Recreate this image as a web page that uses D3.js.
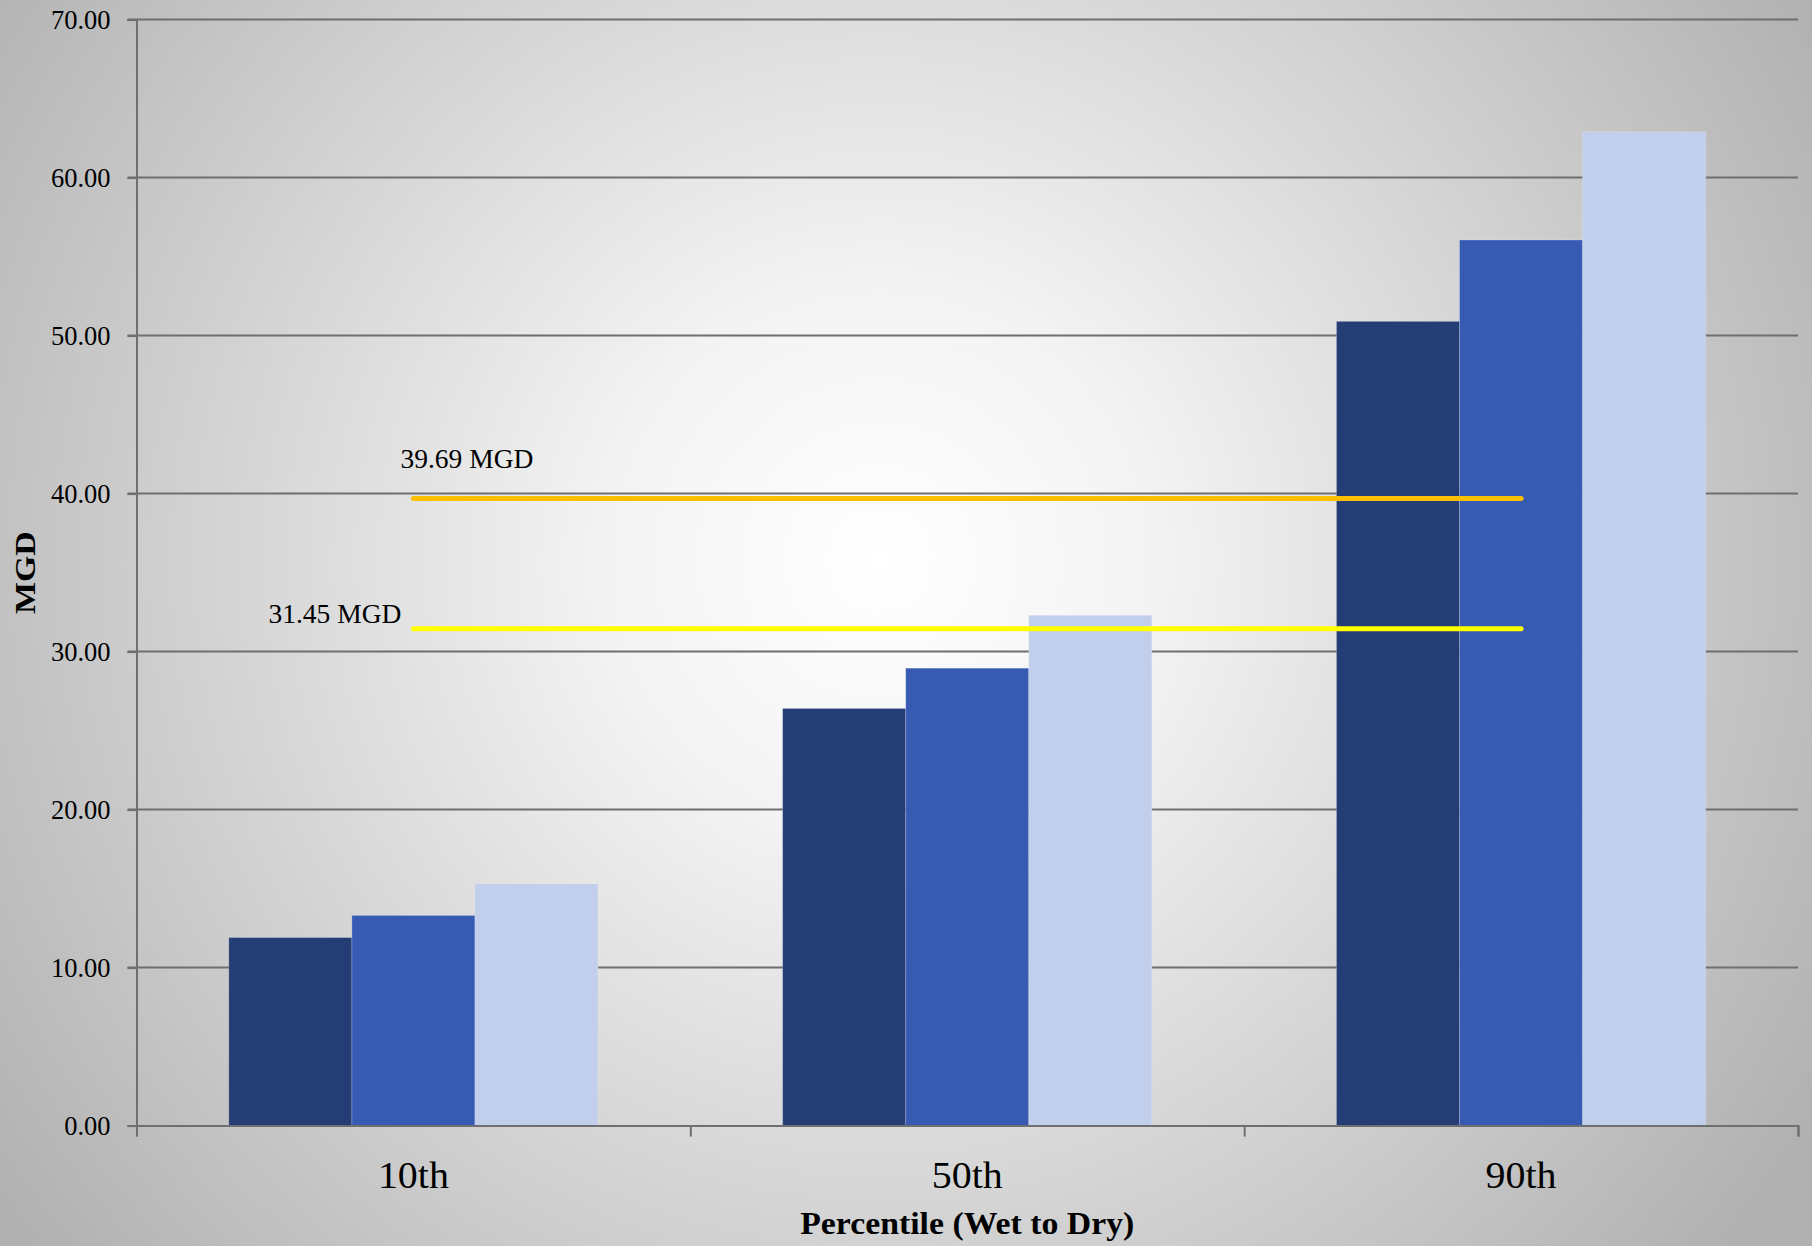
<!DOCTYPE html>
<html>
<head>
<meta charset="utf-8">
<script src="https://cdn.jsdelivr.net/npm/d3@7"></script>
<style>
html,body{margin:0;padding:0;background:#fff;}
svg{display:block;}
text{font-family:"Liberation Serif","DejaVu Serif",serif;fill:#000;}
</style>
</head>
<body>
<svg id="chart" width="1812" height="1246"></svg>
<script>
const categories = ["10th", "50th", "90th"];
const seriesNames = ["Series 1", "Series 2", "Series 3"];
const series1 = [11.9, 26.4, 50.9];
const series2 = [13.3, 28.95, 56.05];
const series3 = [15.3, 32.3, 62.9];
const yTicks = [0, 10, 20, 30, 40, 50, 60, 70];
const refValues = [39.69, 31.45];
const refLabels = ["39.69 MGD", "31.45 MGD"];
const seriesColors = ["#243d74", "#375bb2", "#c1cfec"];
const refColors = ["#ffc000", "#ffff00"];

const W = 1812, H = 1246;
const margin = {left: 136.5, right: 14, top: 19.6, bottom: 120.4};
const svg = d3.select("#chart");

// background gradient
const defs = svg.append("defs");
const rg = defs.append("radialGradient").attr("id", "bg")
  .attr("gradientUnits", "userSpaceOnUse")
  .attr("cx", 880).attr("cy", 560).attr("r", 1100);
rg.append("stop").attr("offset", "0").attr("stop-color", "#ffffff");
rg.append("stop").attr("offset", "0.25").attr("stop-color", "#f3f3f3");
rg.append("stop").attr("offset", "1").attr("stop-color", "#b0b0b0");
svg.append("rect").attr("width", W).attr("height", H).attr("fill", "url(#bg)");

const x0 = d3.scaleBand().domain(categories).range([margin.left, W - margin.right]).paddingInner(0).paddingOuter(0);
const x1 = d3.scaleBand().domain(seriesNames).range([0, x0.bandwidth()]).paddingInner(0).paddingOuter(0.75);
const y = d3.scaleLinear().domain([0, 70]).range([H - margin.bottom, margin.top]);

// gridlines
svg.append("g").selectAll("line").data(yTicks.filter(d => d > 0)).join("line")
  .attr("x1", margin.left - 9).attr("x2", W - margin.right)
  .attr("y1", d => y(d)).attr("y2", d => y(d))
  .attr("stroke", "#6f6f6f").attr("stroke-width", 2);

// y axis
const yAxis = svg.append("g").attr("transform", `translate(${margin.left},0)`)
  .call(d3.axisLeft(y).tickValues(yTicks).tickSize(9).tickPadding(17).tickFormat(d3.format(".2f")));
yAxis.select(".domain").attr("stroke", "#6f6f6f").attr("stroke-width", 2);
yAxis.selectAll(".tick line").attr("stroke", "#6f6f6f").attr("stroke-width", 2);
yAxis.selectAll(".tick text").attr("font-size", 26.5).attr("font-family", "Liberation Serif").attr("fill", "#000");

// bars
const data = [series1, series2, series3];
const groups = svg.append("g").selectAll("g").data(categories).join("g")
  .attr("transform", d => `translate(${x0(d)},0)`);
groups.selectAll("rect").data((c, i) => seriesNames.map((s, j) => ({s, v: data[j][i], j})))
  .join("rect")
  .attr("x", d => x1(d.s)).attr("width", x1.bandwidth())
  .attr("y", d => y(d.v)).attr("height", d => y(0) - y(d.v))
  .attr("fill", d => seriesColors[d.j])
  .attr("stroke", "rgba(255,255,255,0.2)").attr("stroke-width", 1);

// x axis
const xAxisScale = d3.scaleLinear().domain([0, 3]).range([margin.left, W - margin.right]);
const xAxis = svg.append("g").attr("transform", `translate(0,${y(0)})`)
  .call(d3.axisBottom(xAxisScale).tickValues([0, 1, 2, 3]).tickSize(11).tickFormat(""));
xAxis.select(".domain").attr("stroke", "#6f6f6f").attr("stroke-width", 2);
xAxis.selectAll(".tick line").attr("stroke", "#6f6f6f").attr("stroke-width", 2);

svg.append("g").selectAll("text").data(categories).join("text")
  .attr("x", d => x0(d) + x0.bandwidth() / 2).attr("y", y(0) + 62)
  .attr("text-anchor", "middle").attr("font-size", 37)
  .attr("textLength", 71).attr("lengthAdjust", "spacingAndGlyphs").text(d => d);

// reference lines
const xStart = x0(categories[0]) + x0.bandwidth() / 2;
const xEnd = x0(categories[2]) + x0.bandwidth() / 2;
svg.append("g").selectAll("line").data(refValues).join("line")
  .attr("x1", xStart).attr("x2", xEnd)
  .attr("y1", d => y(d)).attr("y2", d => y(d))
  .attr("stroke", (d, i) => refColors[i]).attr("stroke-width", 5).attr("stroke-linecap", "round");

svg.append("text").attr("x", xStart - 13).attr("y", y(refValues[0]) - 30)
  .attr("font-size", 27).attr("textLength", 133).attr("lengthAdjust", "spacingAndGlyphs").text(refLabels[0]);
svg.append("text").attr("x", xStart - 145).attr("y", y(refValues[1]) - 6)
  .attr("font-size", 27).attr("textLength", 133).attr("lengthAdjust", "spacingAndGlyphs").text(refLabels[1]);

// axis titles
svg.append("text").attr("x", (margin.left + W - margin.right) / 2 - 167).attr("y", 1234)
  .attr("font-size", 31).attr("font-weight", "bold")
  .attr("textLength", 334).attr("lengthAdjust", "spacingAndGlyphs")
  .text("Percentile (Wet to Dry)");
svg.append("text").attr("transform", `translate(35,${(y(0) + y(70)) / 2 + 41.5}) rotate(-90)`)
  .attr("font-size", 29).attr("font-weight", "bold")
  .attr("textLength", 83).attr("lengthAdjust", "spacingAndGlyphs")
  .text("MGD");
</script>
</body>
</html>
